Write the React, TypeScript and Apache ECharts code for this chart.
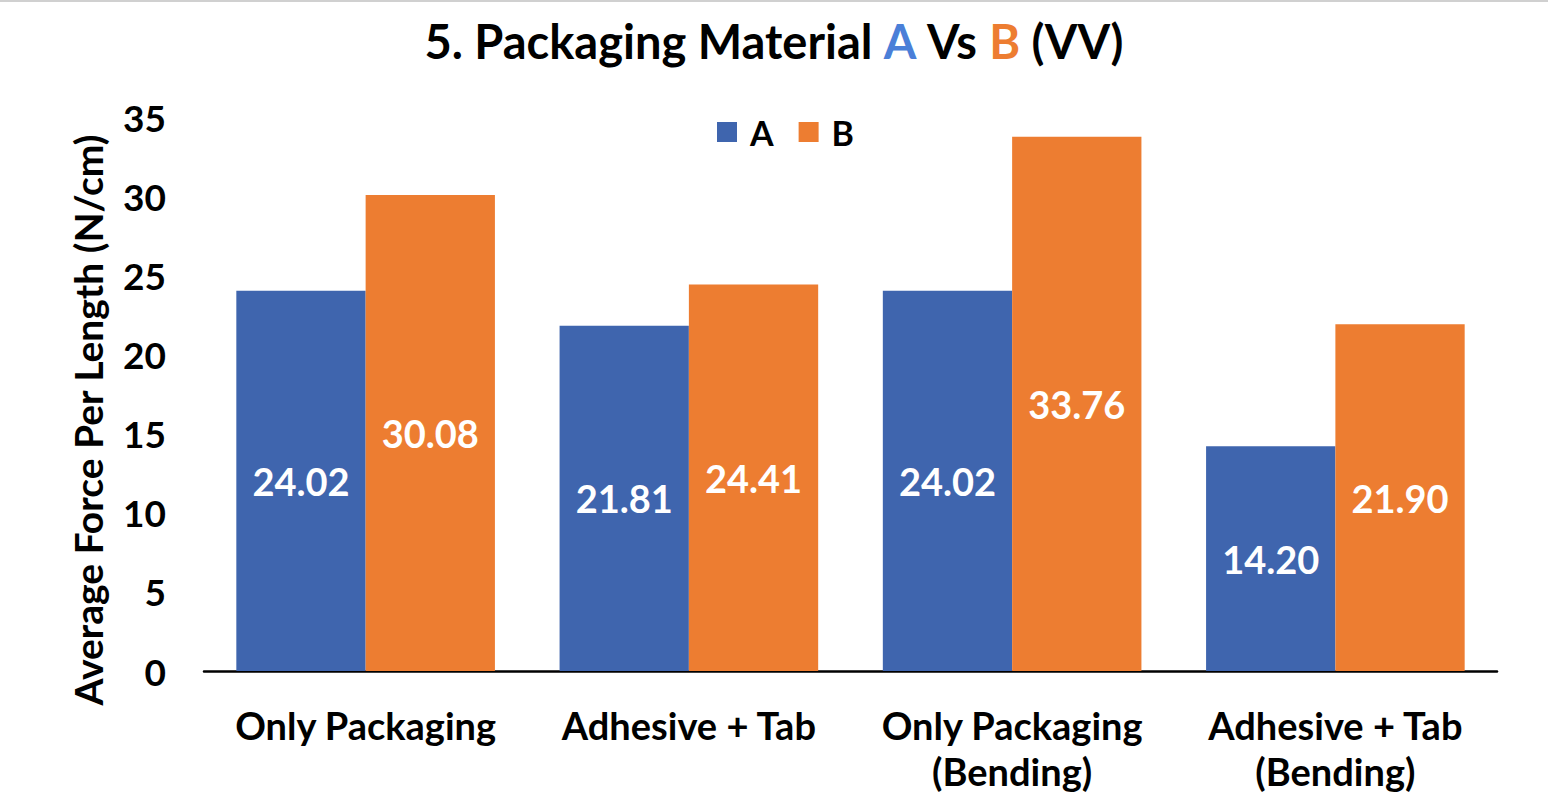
import React, { useEffect, useRef } from "react";
import * as echarts from "echarts";

const categories = ["Only Packaging", "Adhesive + Tab", "Only Packaging\n(Bending)", "Adhesive + Tab\n(Bending)"];
const seriesA = [24.02, 21.81, 24.02, 14.2];
const seriesB = [30.08, 24.41, 33.76, 21.9];
const yTicks = { min: 0, max: 35, interval: 5 };

const BLUE = "#3F65AE";
const ORANGE = "#ED7D31";
const FONT = "Lato, 'Open Sans', sans-serif";

export default function App() {
  const ref = useRef<HTMLDivElement>(null);

  useEffect(() => {
    if (!ref.current) return;
    const chart = echarts.init(ref.current, null, { renderer: "svg" });
    const labelStyle = {
      show: true,
      position: "inside" as const,
      color: "#ffffff",
      fontFamily: FONT,
      fontWeight: "bold" as const,
      fontSize: 38,
      formatter: (p: any) => Number(p.value).toFixed(2),
    };
    chart.setOption({
      animation: false,
      backgroundColor: "#ffffff",
      title: {
        text: "5. Packaging Material {a|A} Vs {b|B} (VV)",
        left: "center",
        top: 12,
        textStyle: {
          fontFamily: FONT,
          fontWeight: "bold",
          fontSize: 47,
          color: "#000000",
          rich: {
            a: { fontFamily: FONT, fontWeight: "bold", fontSize: 47, color: "#4A7FD8" },
            b: { fontFamily: FONT, fontWeight: "bold", fontSize: 47, color: ORANGE },
          },
        },
      },
      legend: {
        top: 110,
        left: 712,
        itemWidth: 20,
        itemHeight: 20,
        itemGap: 25,
        icon: "rect",
        textStyle: {
          fontFamily: FONT,
          fontWeight: "bold",
          fontSize: 34,
          color: "#000000",
          padding: [0, 0, 0, 8],
        },
        data: ["A", "B"],
      },
      grid: {
        left: 204,
        right: 51,
        top: 117,
        bottom: 126,
        containLabel: false,
        outerBoundsMode: "none",
      },
      xAxis: {
        type: "category",
        data: categories,
        axisLine: { lineStyle: { color: "#000000", width: 2.5 } },
        axisTick: { show: false },
        axisLabel: {
          interval: 0,
          margin: 31,
          fontFamily: FONT,
          fontWeight: "bold",
          fontSize: 38,
          lineHeight: 46,
          color: "#000000",
        },
      },
      yAxis: {
        type: "value",
        min: yTicks.min,
        max: yTicks.max,
        interval: yTicks.interval,
        splitLine: { show: false },
        axisLine: { show: false },
        axisTick: { show: false },
        axisLabel: {
          margin: 38,
          fontFamily: FONT,
          fontWeight: "bold",
          fontSize: 37,
          color: "#000000",
        },
      },
      graphic: [
        {
          type: "rect",
          shape: { x: 0, y: 0, width: 1548, height: 2 },
          style: { fill: "#d0d0d0" },
        },
        {
          type: "text",
          x: 88,
          y: 420,
          rotation: Math.PI / 2,
          style: {
            text: "Average Force Per Length (N/cm)",
            fontFamily: FONT,
            fontWeight: "bold",
            fontSize: 39,
            fill: "#000000",
            align: "center",
            verticalAlign: "middle",
          },
        },
      ],
      series: [
        {
          name: "A",
          type: "bar",
          data: seriesA,
          itemStyle: { color: BLUE },
          barWidth: "40%",
          barGap: "0%",
          label: labelStyle,
        },
        {
          name: "B",
          type: "bar",
          data: seriesB,
          itemStyle: { color: ORANGE },
          barWidth: "40%",
          barGap: "0%",
          label: labelStyle,
        },
      ],
    });
    return () => chart.dispose();
  }, []);

  return (
    <div
      ref={ref}
      style={{ position: "fixed", left: 0, top: 0, width: 1548, height: 797 }}
    />
  );
}
